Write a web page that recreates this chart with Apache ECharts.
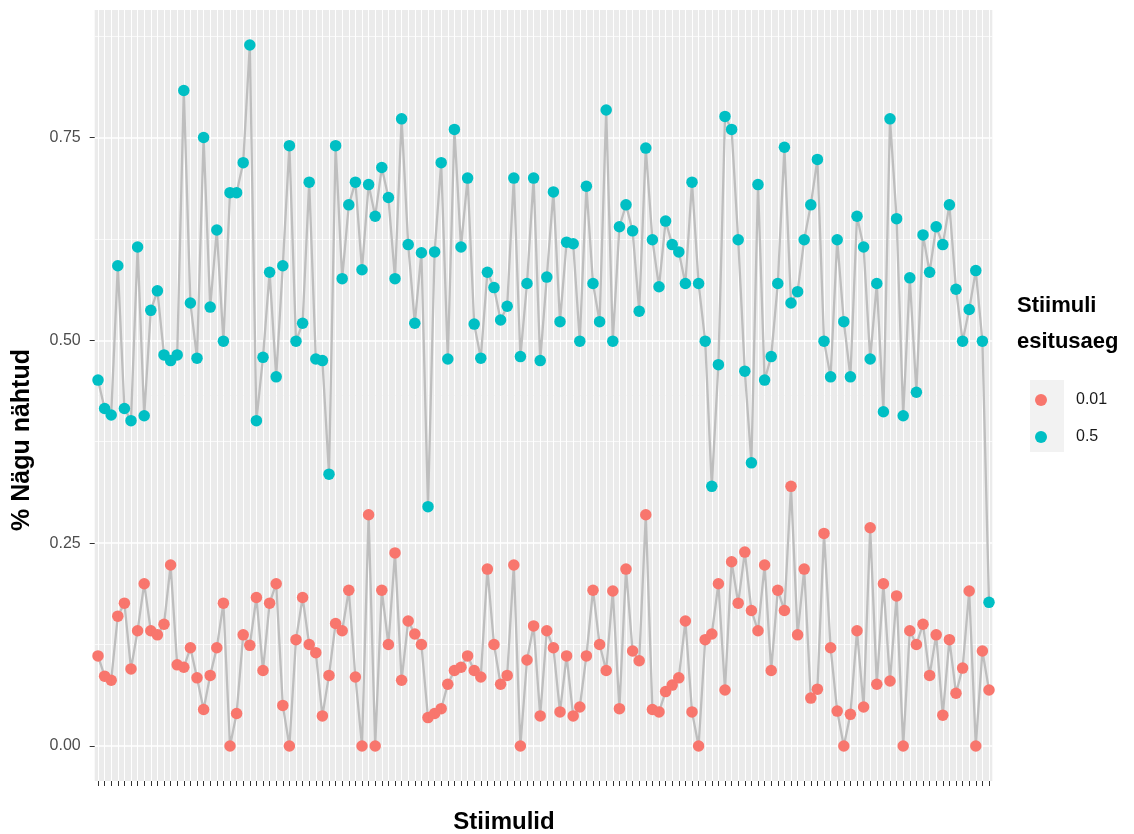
<!DOCTYPE html>
<html><head><meta charset="utf-8">
<script src="https://cdn.jsdelivr.net/npm/echarts@6/dist/echarts.min.js"></script>
<style>html,body{margin:0;padding:0;background:#fff}#c{width:1134px;height:834px}</style>
</head><body><div id="c"></div>
<script>
const categories = Array.from({length: 136}, (_, i) => 'S' + (i + 1));
const seriesNames = ['0.01', '0.5'];
const values001 = [
0.111,0.086,0.081,0.160,0.176,0.095,0.142,0.200,0.142,0.137,
0.150,0.223,0.100,0.097,0.121,0.084,0.045,0.087,0.121,0.176,
0.000,0.040,0.137,0.124,0.183,0.093,0.176,0.200,0.050,0.000,
0.131,0.183,0.125,0.115,0.037,0.087,0.151,0.142,0.192,0.085,
0.000,0.285,0.000,0.192,0.125,0.238,0.081,0.154,0.138,0.125,
0.035,0.040,0.046,0.076,0.093,0.097,0.111,0.093,0.085,0.218,
0.125,0.076,0.087,0.223,0.000,0.106,0.148,0.037,0.142,0.121,
0.042,0.111,0.037,0.048,0.111,0.192,0.125,0.093,0.191,0.046,
0.218,0.117,0.105,0.285,0.045,0.042,0.067,0.075,0.084,0.154,
0.042,0.000,0.131,0.138,0.200,0.069,0.227,0.176,0.239,0.167,
0.142,0.223,0.093,0.192,0.167,0.320,0.137,0.218,0.059,0.070,
0.262,0.121,0.043,0.000,0.039,0.142,0.048,0.269,0.076,0.200,
0.080,0.185,0.000,0.142,0.125,0.150,0.087,0.137,0.038,0.131,
0.065,0.096,0.191,0.000,0.117,0.069];
const values05 = [
0.451,0.416,0.408,0.592,0.416,0.401,0.615,0.407,0.537,0.561,
0.482,0.475,0.482,0.808,0.546,0.478,0.750,0.541,0.636,0.499,
0.682,0.682,0.719,0.864,0.401,0.479,0.584,0.455,0.592,0.740,
0.499,0.521,0.695,0.477,0.475,0.335,0.740,0.576,0.667,0.695,
0.587,0.692,0.653,0.713,0.676,0.576,0.773,0.618,0.521,0.608,
0.295,0.609,0.719,0.477,0.760,0.615,0.700,0.520,0.478,0.584,
0.565,0.525,0.542,0.700,0.480,0.570,0.700,0.475,0.578,0.683,
0.523,0.621,0.619,0.499,0.690,0.570,0.523,0.784,0.499,0.640,
0.667,0.635,0.536,0.737,0.624,0.566,0.647,0.618,0.609,0.570,
0.695,0.570,0.499,0.320,0.470,0.776,0.760,0.624,0.462,0.349,
0.692,0.451,0.480,0.570,0.738,0.546,0.560,0.624,0.667,0.723,
0.499,0.455,0.624,0.523,0.455,0.653,0.615,0.477,0.570,0.412,
0.773,0.650,0.407,0.577,0.436,0.630,0.584,0.640,0.618,0.667,
0.563,0.499,0.538,0.586,0.499,0.177];
const yTicks = [0, 0.25, 0.5, 0.75];
const yMinorTicks = [0.125, 0.375, 0.625, 0.875];
const yRange = [-0.0432, 0.9072];
const colors = ['#F8766D', '#00BFC4'];

const chart = echarts.init(document.getElementById('c'), null, {renderer: 'canvas'});
const FONT = '"Liberation Sans", Arial, sans-serif';
const option = {
  animation: false,
  backgroundColor: '#ffffff',
  grid: {left: 94.7, right: 141.7, top: 10, bottom: 53, show: true, backgroundColor: '#EBEBEB', borderWidth: 0, containLabel: false},
  xAxis: {
    type: 'category', data: categories, boundaryGap: true,
    axisLine: {show: false, onZero: false},
    axisTick: {show: true, alignWithLabel: true, interval: 0, length: 5, lineStyle: {color: '#333333', width: 1}},
    axisLabel: {show: false, interval: 0},
    splitLine: {show: true, alignWithLabel: true, interval: 0, lineStyle: {color: '#ffffff', width: 1}}
  },
  yAxis: [{
    type: 'value', min: yRange[0], max: yRange[1],
    axisLine: {show: false},
    axisTick: {show: true, length: 5, customValues: yTicks, lineStyle: {color: '#333333', width: 1}},
    axisLabel: {customValues: yTicks, formatter: v => v.toFixed(2), color: '#4D4D4D', fontSize: 16, fontFamily: FONT, margin: 14},
    splitLine: {show: true, lineStyle: {color: '#ffffff', width: 1.5}}
  }, {
    type: 'value', min: yRange[0], max: yRange[1], position: 'left',
    axisLine: {show: false},
    axisTick: {show: false, customValues: yMinorTicks},
    axisLabel: {show: false, customValues: yMinorTicks},
    splitLine: {show: true, lineStyle: {color: '#ffffff', width: 0.7}}
  }],
  legend: {
    data: seriesNames, orient: 'vertical', left: 1030, top: 387,
    itemWidth: 34, itemHeight: 12, itemGap: 21, icon: 'circle',
    textStyle: {fontSize: 16, fontFamily: FONT, color: '#1a1a1a', padding: [0, 0, 0, 13]}
  },
  graphic: [
    {type: 'rect', left: 1030, top: 380, shape: {width: 34, height: 36}, style: {fill: '#F2F2F2'}, z: -1},
    {type: 'rect', left: 1030, top: 416, shape: {width: 34, height: 36}, style: {fill: '#F2F2F2'}, z: -1},
    {type: 'text', left: 1017, top: 288, style: {text: 'Stiimuli\nesitusaeg', font: 'bold 22px ' + FONT, fill: '#000', lineHeight: 36}},
    {type: 'text', x: 504, y: 822, style: {text: 'Stiimulid', font: 'bold 24px ' + FONT, fill: '#000', align: 'center', verticalAlign: 'middle'}},
    {type: 'text', x: 22, y: 440, rotation: Math.PI / 2, style: {text: '% Nägu nähtud', font: 'bold 25px ' + FONT, fill: '#000', align: 'center', verticalAlign: 'middle'}}
  ],
  series: [
    {name: 'line001', type: 'line', data: values001, symbol: 'none', silent: true, z: 2, lineStyle: {color: '#BEBEBE', width: 2.3}},
    {name: 'line05', type: 'line', data: values05, symbol: 'none', silent: true, z: 2, lineStyle: {color: '#BEBEBE', width: 2.3}},
    {name: seriesNames[0], type: 'scatter', data: values001, symbolSize: 11.5, z: 3, itemStyle: {color: colors[0], opacity: 1}},
    {name: seriesNames[1], type: 'scatter', data: values05, symbolSize: 11.5, z: 3, itemStyle: {color: colors[1], opacity: 1}}
  ]
};
chart.setOption(option);
</script>
</body></html>
